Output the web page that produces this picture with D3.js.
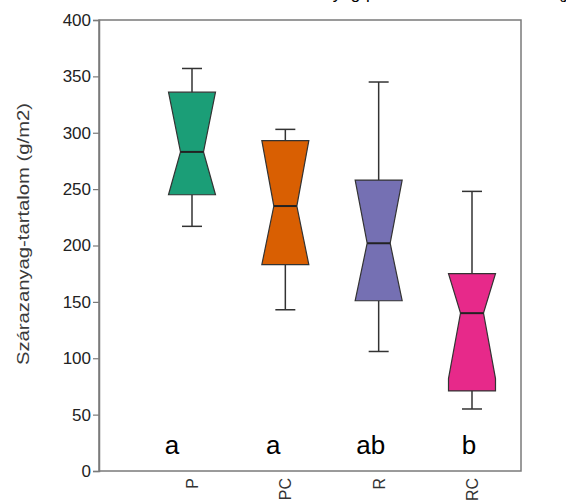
<!DOCTYPE html>
<html>
<head>
<meta charset="utf-8">
<script src="https://cdn.jsdelivr.net/npm/d3@7"></script>
<style>
  body { margin: 0; background: #fff; }
  text { font-family: "Liberation Sans", Arial, sans-serif; }
</style>
</head>
<body>
<svg class="chart" width="566" height="501"></svg>
<script>
// group names and letters from the post-hoc test
var groups = ["P", "PC", "R", "RC"];
var letters = ["a", "a", "ab", "b"];
var colors = ["#1b9e77", "#d95f02", "#7570b3", "#e7298a"];

// box plot statistics (g/m2)
var whiskLow = [217, 143, 106, 55];
var q1 = [245, 183, 151, 71];
var median = [283, 235, 202, 140];
var q3 = [336, 293, 258, 175];
var whiskHigh = [357, 303, 345, 248];
var notchLow = [245, 183, 151, 82];
var notchHigh = [336, 293, 258, 175];

var yTicks = [0, 50, 100, 150, 200, 250, 300, 350, 400];

var svg = d3.select(".chart");
// note: "top" is taken by window.top, so plot edges get their own names
var plotLeft = 99, plotRight = 521, plotTop = 20, plotBottom = 471;

var yScale = d3.scaleLinear().domain([0, 400]).range([plotBottom, plotTop]);
var xScale = d3.scalePoint().domain(groups).range([192, 472]);

var boxHalf = 23.5, notchHalf = 11.5, capHalf = 10;

// cut off title, only the descenders are left in view
svg.append("text")
    .attr("x", 261)
    .attr("y", -1)
    .style("font-size", "17px")
    .text("Szárazanyag-produkció kezelésenként (júl.)");

// frame
svg.append("rect")
    .attr("x", plotLeft).attr("y", plotTop)
    .attr("width", plotRight - plotLeft).attr("height", plotBottom - plotTop)
    .attr("fill", "none")
    .attr("stroke", "#7a7a7a")
    .attr("stroke-width", 1.5);

// y axis
var yAxis = svg.append("g")
    .attr("transform", "translate(" + plotLeft + ",0)")
    .call(d3.axisLeft(yScale).tickValues(yTicks).tickSize(6).tickPadding(2));
yAxis.select(".domain").attr("stroke", "#7a7a7a").attr("stroke-width", 1.5);
yAxis.selectAll(".tick line").attr("stroke", "#7a7a7a").attr("stroke-width", 1.2);
yAxis.selectAll(".tick text")
    .attr("fill", "#222")
    .style("font-size", "17px")
    .style("font-family", "Liberation Sans, Arial, sans-serif");

svg.append("text")
    .attr("transform", "translate(29,234) rotate(-90)")
    .attr("text-anchor", "middle")
    .attr("fill", "#3a3a3a")
    .attr("textLength", 262)
    .attr("lengthAdjust", "spacingAndGlyphs")
    .style("font-size", "16px")
    .text("Szárazanyag-tartalom (g/m2)");

// x labels, rotated
svg.selectAll(".xlab")
    .data(groups)
    .enter()
    .append("text")
    .attr("class", "xlab")
    .attr("transform", function(d) {
        return "translate(" + (xScale(d) + 6) + "," + (plotBottom + 7) + ") rotate(-90)";
    })
    .attr("text-anchor", "end")
    .attr("fill", "#333")
    .style("font-size", "16px")
    .text(function(d) { return d; });

var boxes = svg.selectAll(".box")
    .data(groups)
    .enter()
    .append("g")
    .attr("class", "box");

// whiskers
boxes.append("line")
    .attr("x1", function(d) { return xScale(d); })
    .attr("x2", function(d) { return xScale(d); })
    .attr("y1", function(d, i) { return yScale(whiskHigh[i]); })
    .attr("y2", function(d, i) { return yScale(q3[i]); })
    .attr("stroke", "#333").attr("stroke-width", 1.5);
boxes.append("line")
    .attr("x1", function(d) { return xScale(d); })
    .attr("x2", function(d) { return xScale(d); })
    .attr("y1", function(d, i) { return yScale(q1[i]); })
    .attr("y2", function(d, i) { return yScale(whiskLow[i]); })
    .attr("stroke", "#333").attr("stroke-width", 1.5);
[whiskHigh, whiskLow].forEach(function(arr) {
    boxes.append("line")
        .attr("x1", function(d) { return xScale(d) - capHalf; })
        .attr("x2", function(d) { return xScale(d) + capHalf; })
        .attr("y1", function(d, i) { return yScale(arr[i]); })
        .attr("y2", function(d, i) { return yScale(arr[i]); })
        .attr("stroke", "#333").attr("stroke-width", 1.5);
});

// notched box
boxes.append("path")
    .attr("d", function(d, i) {
        var cx = xScale(d);
        var pts = [
            [cx - boxHalf, yScale(q3[i])],
            [cx + boxHalf, yScale(q3[i])],
            [cx + boxHalf, yScale(notchHigh[i])],
            [cx + notchHalf, yScale(median[i])],
            [cx + boxHalf, yScale(notchLow[i])],
            [cx + boxHalf, yScale(q1[i])],
            [cx - boxHalf, yScale(q1[i])],
            [cx - boxHalf, yScale(notchLow[i])],
            [cx - notchHalf, yScale(median[i])],
            [cx - boxHalf, yScale(notchHigh[i])]
        ];
        return d3.line()(pts) + "Z";
    })
    .attr("fill", function(d, i) { return colors[i]; })
    .attr("stroke", "#333")
    .attr("stroke-width", 1.2);

// median
boxes.append("line")
    .attr("x1", function(d) { return xScale(d) - notchHalf; })
    .attr("x2", function(d) { return xScale(d) + notchHalf; })
    .attr("y1", function(d, i) { return yScale(median[i]); })
    .attr("y2", function(d, i) { return yScale(median[i]); })
    .attr("stroke", "#222").attr("stroke-width", 2);

// significance letters
var letterShift = [-20, -12, -8, -3];
svg.selectAll(".letter")
    .data(letters)
    .enter()
    .append("text")
    .attr("class", "letter")
    .attr("x", function(d, i) { return xScale(groups[i]) + letterShift[i]; })
    .attr("y", 454)
    .attr("text-anchor", "middle")
    .attr("fill", "#000")
    .style("font-size", "26px")
    .text(function(d) { return d; });
</script>
</body>
</html>
